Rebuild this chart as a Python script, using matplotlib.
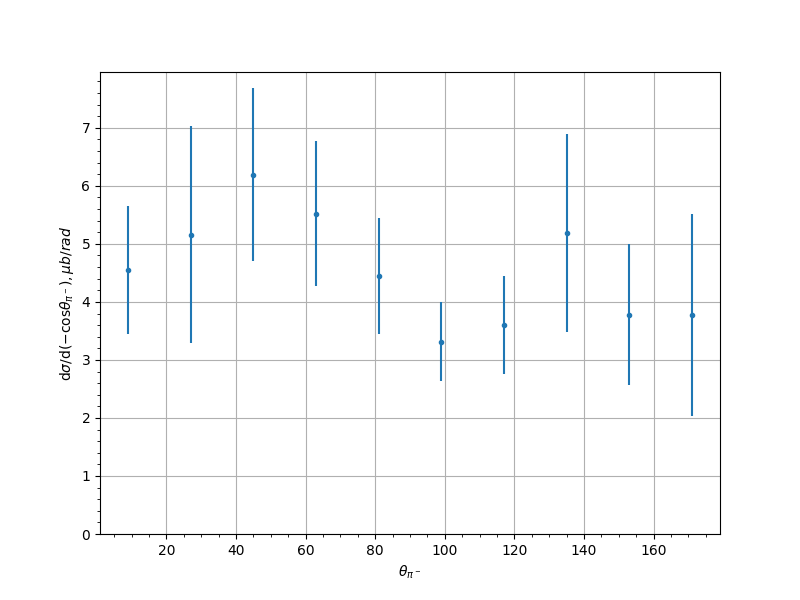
import matplotlib
matplotlib.use("Agg")
import matplotlib.pyplot as plt

theta = [9, 27, 45, 63, 81, 99, 117, 135, 153, 171]
xsec = [4.55, 5.16, 6.19, 5.52, 4.45, 3.31, 3.60, 5.19, 3.78, 3.78]
err = [1.10, 1.87, 1.49, 1.25, 1.00, 0.68, 0.85, 1.71, 1.22, 1.74]

fig, ax = plt.subplots(figsize=(8, 6), dpi=100)
ax.errorbar(theta, xsec, yerr=err, fmt='.')
ax.set_ylim(bottom=0)
ax.minorticks_on()
ax.grid(True, which='major')
ax.set_xlabel(r'$\theta_{\pi^-}$')
ax.set_ylabel(r'd$\sigma$/d$(-\mathrm{cos}\theta_{\pi^-}), \mu b/rad$')
fig.savefig("out.png", dpi=100)
